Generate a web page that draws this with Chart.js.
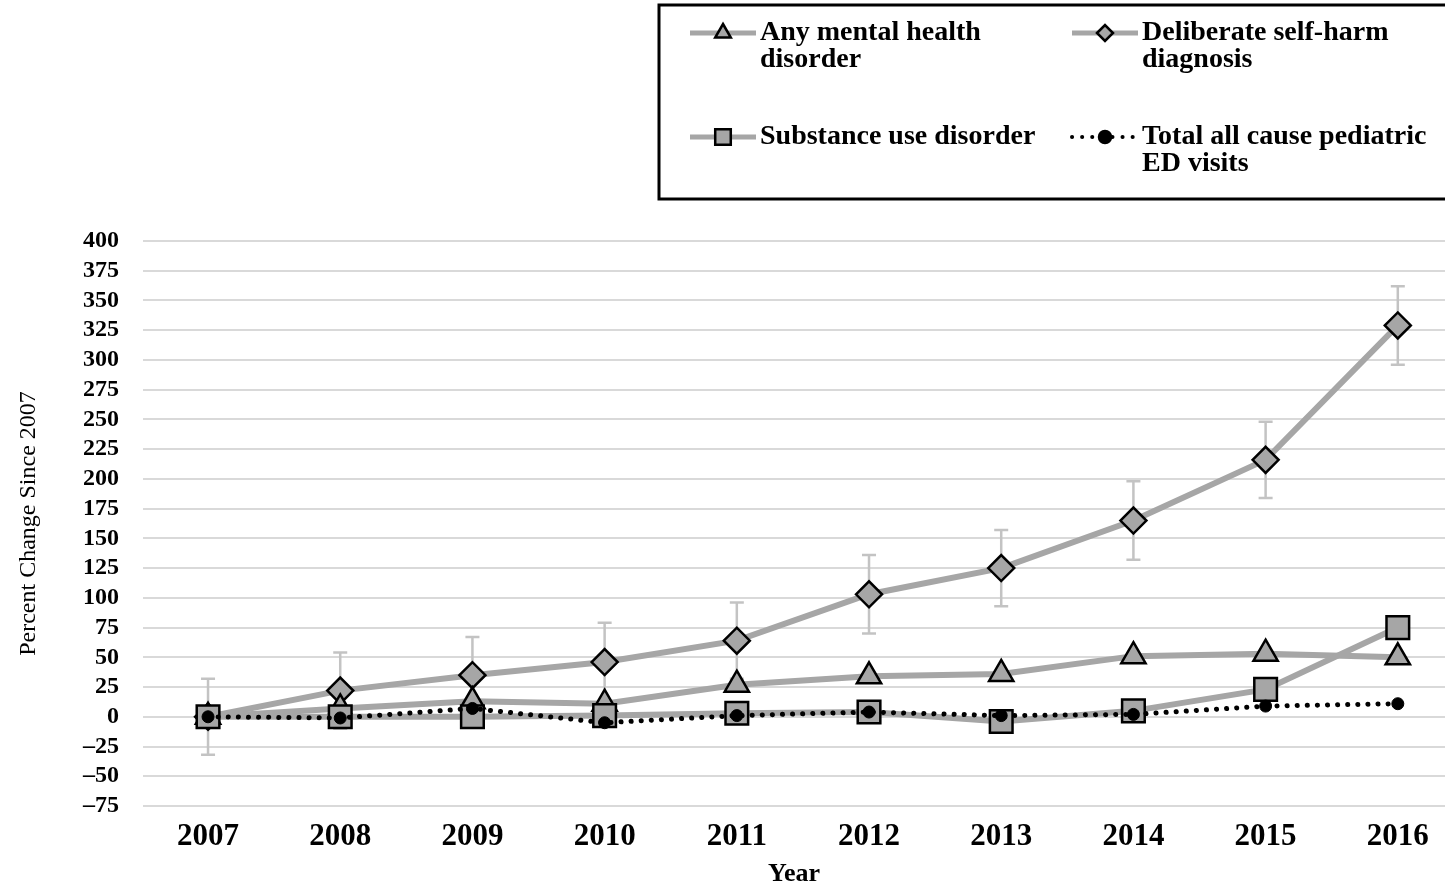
<!DOCTYPE html>
<html>
<head>
<meta charset="utf-8">
<script src="https://cdn.jsdelivr.net/npm/chart.js@4.4.0/dist/chart.umd.min.js"></script>
<style>
    html, body { margin: 0; padding: 0; background: #fff; overflow: hidden; }
    #wrap { width: 1445px; height: 890px; position: relative; }
</style>
</head>
<body>
<div id="wrap"><canvas id="trendChart"></canvas></div>
<script>
// values (percent change since 2007)
const years = [2007, 2008, 2009, 2010, 2011, 2012, 2013, 2014, 2015, 2016];
const mentalHealth = [0, 7, 13, 11, 27, 34, 36, 51, 53, 50];
const selfHarm = [0, 22, 35, 46, 64, 103, 125, 165, 216, 329];
const selfHarmErr = [32, 32, 32, 33, 32, 33, 32, 33, 32, 33];
const substanceUse = [0, 0, 0, 1, 3, 4, -4, 5, 23, 75];
const totalVisits = [0, -1, 7, -5, 1, 4, 1, 2, 9, 11];
const seriesLabels = [
    ['Any mental health', 'disorder'],
    ['Deliberate self-harm', 'diagnosis'],
    ['Substance use disorder'],
    ['Total all cause pediatric', 'ED visits']
];

const GREY = '#a6a6a6';
const SERIF = "'Liberation Serif', 'DejaVu Serif', serif";

function pts(values) {
    return values.map((v, i) => ({ x: years[i], y: v }));
}

// vertical error bars on the self-harm series
const errorBarPlugin = {
    id: 'errorBars',
    beforeDatasetsDraw(chart) {
        const { ctx, scales: { x, y } } = chart;
        ctx.save();
        ctx.strokeStyle = '#c3c3c3';
        ctx.lineWidth = 2.5;
        years.forEach((yr, i) => {
            const px = x.getPixelForValue(yr);
            const top = y.getPixelForValue(selfHarm[i] + selfHarmErr[i]);
            const bot = y.getPixelForValue(selfHarm[i] - selfHarmErr[i]);
            ctx.beginPath();
            ctx.moveTo(px, top); ctx.lineTo(px, bot);
            ctx.moveTo(px - 7, top); ctx.lineTo(px + 7, top);
            ctx.moveTo(px - 7, bot); ctx.lineTo(px + 7, bot);
            ctx.stroke();
        });
        ctx.restore();
    }
};

// boxed two-column legend at the top right
const boxLegendPlugin = {
    id: 'boxLegend',
    afterDraw(chart) {
        const ctx = chart.ctx;
        ctx.save();
        ctx.lineWidth = 3;
        ctx.strokeStyle = '#000';
        ctx.setLineDash([]);
        ctx.strokeRect(659, 5, 820, 194);

        const cols = [690, 1072];
        const rows = [33, 137];
        chart.data.datasets.forEach((ds, i) => {
            const x0 = cols[i % 2];
            const y0 = rows[Math.floor(i / 2)];
            ctx.save();
            ctx.strokeStyle = ds.borderColor;
            ctx.lineWidth = ds.legendLineWidth;
            ctx.lineCap = ds.borderCapStyle || 'butt';
            ctx.setLineDash(ds.borderDash || []);
            ctx.beginPath();
            ctx.moveTo(x0, y0);
            ctx.lineTo(x0 + 66, y0);
            ctx.stroke();
            ctx.restore();

            ctx.save();
            ctx.setLineDash([]);
            ctx.fillStyle = ds.pointBackgroundColor;
            ctx.strokeStyle = '#000';
            ctx.lineWidth = 2.5;
            Chart.helpers.drawPoint(ctx, {
                pointStyle: ds.pointStyle,
                radius: ds.legendRadius,
                borderWidth: 2.5,
                rotation: 0
            }, x0 + 33, y0);
            ctx.restore();

            ctx.fillStyle = '#000';
            ctx.font = 'bold 28px ' + SERIF;
            ctx.textAlign = 'left';
            ctx.textBaseline = 'middle';
            seriesLabels[i].forEach((line, k) => {
                ctx.fillText(line, x0 + 70, y0 + k * 27);
            });
        });
        ctx.restore();
    }
};

const datasets = [
    {
        label: seriesLabels[0].join(' '),
        data: pts(mentalHealth),
        borderColor: GREY,
        borderWidth: 6,
        pointStyle: 'triangle',
        pointRadius: 14,
        pointBackgroundColor: GREY,
        pointBorderColor: '#000',
        pointBorderWidth: 2.5,
        legendRadius: 9,
        legendLineWidth: 5,
        order: 2
    },
    {
        label: seriesLabels[1].join(' '),
        data: pts(selfHarm),
        borderColor: GREY,
        borderWidth: 6,
        pointStyle: 'rectRot',
        pointRadius: 13,
        pointBackgroundColor: GREY,
        pointBorderColor: '#000',
        pointBorderWidth: 2.5,
        legendRadius: 8,
        legendLineWidth: 5,
        order: 3
    },
    {
        label: seriesLabels[2].join(' '),
        data: pts(substanceUse),
        borderColor: GREY,
        borderWidth: 6,
        pointStyle: 'rect',
        pointRadius: 16,
        pointBackgroundColor: GREY,
        pointBorderColor: '#000',
        pointBorderWidth: 2.5,
        legendRadius: 11,
        legendLineWidth: 5,
        order: 1
    },
    {
        label: seriesLabels[3].join(' '),
        data: pts(totalVisits),
        borderColor: '#000',
        borderWidth: 5,
        borderDash: [0.1, 10],
        borderCapStyle: 'round',
        pointStyle: 'circle',
        pointRadius: 6,
        pointBackgroundColor: '#000',
        pointBorderColor: '#000',
        pointBorderWidth: 1,
        legendRadius: 6,
        legendLineWidth: 4,
        order: 0
    }
];

new Chart(document.getElementById('trendChart').getContext('2d'), {
    type: 'line',
    data: { datasets },
    options: {
        responsive: true,
        maintainAspectRatio: false,
        animation: false,
        layout: { autoPadding: false, padding: { top: 241, right: 0, bottom: 0, left: 0 } },
        plugins: {
            legend: { display: false },
            tooltip: { enabled: false }
        },
        scales: {
            x: {
                type: 'linear',
                min: 2006.508,
                max: 2016.357,
                afterBuildTicks: (scale) => { scale.ticks = years.map(v => ({ value: v })); },
                afterFit: (scale) => {
                    scale.height = 84;
                    scale.paddingLeft = 0;
                    scale.paddingRight = 0;
                },
                grid: { display: false, drawTicks: false },
                border: { display: false },
                ticks: {
                    callback: (v) => String(v),
                    color: '#000',
                    padding: 12,
                    font: { family: SERIF, size: 31, weight: 'bold' }
                },
                title: {
                    display: true,
                    text: 'Year',
                    color: '#000',
                    padding: { top: 0, bottom: 0 },
                    font: { family: SERIF, size: 26, weight: 'bold' }
                }
            },
            y: {
                min: -75,
                max: 400,
                afterFit: (scale) => { scale.width = 143; },
                grid: { color: '#d9d9d9', lineWidth: 2, drawTicks: false },
                border: { display: false },
                ticks: {
                    stepSize: 25,
                    autoSkip: false,
                    color: '#000',
                    padding: 24,
                    callback: (v) => v < 0 ? '\u2013' + Math.abs(v) : String(v),
                    font: { family: SERIF, size: 24, weight: 'bold' }
                },
                title: {
                    display: true,
                    text: 'Percent Change Since 2007',
                    color: '#000',
                    padding: { top: 14, bottom: 0 },
                    font: { family: SERIF, size: 24 }
                }
            }
        }
    },
    plugins: [errorBarPlugin, boxLegendPlugin]
});
</script>
</body>
</html>
